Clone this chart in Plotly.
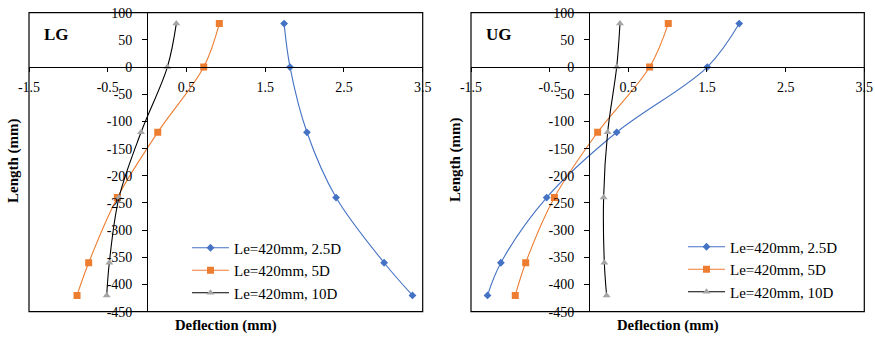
import plotly.graph_objects as go

# Pile depth below/above the ground line (mm)
depth = [80, 0, -120, -240, -360, -420]

# Lateral deflection (mm) for each embedment ratio, LG panel
lg_25d = [1.74, 1.815, 2.03, 2.40, 3.01, 3.37]
lg_5d = [0.917, 0.719, 0.135, -0.378, -0.742, -0.89]
lg_10d = [0.371, 0.257, -0.077, -0.357, -0.48, -0.513]

# Lateral deflection (mm) for each embedment ratio, UG panel
ug_25d = [1.91, 1.504, 0.352, -0.538, -1.12, -1.29]
ug_5d = [1.008, 0.771, 0.11, -0.44, -0.805, -0.937]
ug_10d = [0.394, 0.352, 0.237, 0.186, 0.195, 0.224]

series_names = ["Le=420mm, 2.5D", "Le=420mm, 5D", "Le=420mm, 10D"]
panel_labels = ["LG", "UG"]

x_tickvals = [-1.5, -0.5, 0.5, 1.5, 2.5, 3.5]
x_ticktext = ["-1.5", "-0.5", "0.5", "1.5", "2.5", "3.5"]
y_tickvals = [100, 50, 0, -50, -100, -150, -200, -250, -300, -350, -400, -450]
y_ticktext = ["100", "50", "0", "-50", "-100", "-150", "-200", "-250",
              "-300", "-350", "-400", "-450"]

X_RANGE = [-1.5, 3.5]
Y_RANGE = [-450, 100]

W, H = 875, 337
SERIF = "Liberation Serif"

BLUE = "#4472C4"
ORANGE = "#ED7D31"
GRAY = "#A5A5A5"

# plot-area domains (paper fractions)
x_domains = [[29 / W, 422.7 / W], [471 / W, 864.3 / W]]
y_domain = [1 - 311.7 / H, 1 - 12.7 / H]


def frac(v, rng):
    return (v - rng[0]) / (rng[1] - rng[0])


# axes cross at the origin: x axis sits at y=0, y axis at x=0
x_axis_pos = y_domain[0] + frac(0, Y_RANGE) * (y_domain[1] - y_domain[0])

fig = go.Figure()

panels = [
    (lg_25d, lg_5d, lg_10d),
    (ug_25d, ug_5d, ug_10d),
]
styles = [
    dict(line=dict(color=BLUE, width=1.1), marker=dict(symbol="diamond", size=6, color=BLUE)),
    dict(line=dict(color=ORANGE, width=1.1), marker=dict(symbol="square", size=7, color=ORANGE)),
    dict(line=dict(color="black", width=1.1), marker=dict(symbol="triangle-up", size=7, color=GRAY)),
]

for i, series in enumerate(panels):
    xa = "x" if i == 0 else "x2"
    ya = "y" if i == 0 else "y2"
    lg = "legend" if i == 0 else "legend2"
    for name, vals, st in zip(series_names, series, styles):
        fig.add_trace(go.Scatter(
            x=vals, y=depth, name=name, mode="lines+markers",
            line=dict(shape="spline", smoothing=1.0, **st["line"]),
            marker=st["marker"], xaxis=xa, yaxis=ya, legend=lg,
        ))

axis_font = dict(family=SERIF, size=14, color="black")


def xaxis_cfg(i):
    return dict(
        domain=x_domains[i], range=X_RANGE, anchor="free", position=x_axis_pos,
        showline=True, linecolor="black", linewidth=1,
        ticks="outside", ticklen=4, tickcolor="black", tickwidth=1,
        ticklabelstandoff=3,
        tickmode="array", tickvals=x_tickvals, ticktext=x_ticktext,
        tickfont=axis_font, showgrid=False, zeroline=False, fixedrange=True,
        automargin=False,
    )


def yaxis_cfg(i):
    xd = x_domains[i]
    pos = xd[0] + frac(0, X_RANGE) * (xd[1] - xd[0])
    return dict(
        domain=y_domain, range=Y_RANGE, anchor="free", position=pos,
        showline=True, linecolor="black", linewidth=1,
        ticks="outside", ticklen=5, tickcolor="black", tickwidth=1,
        ticklabelstandoff=7,
        tickmode="array", tickvals=y_tickvals, ticktext=y_ticktext,
        tickfont=axis_font, showgrid=False, zeroline=False, fixedrange=True,
        automargin=False,
    )


shapes = []
annotations = []
for i, suffix in enumerate(["", "2"]):
    shapes.append(dict(
        type="rect", xref=f"x{suffix} domain", yref=f"y{suffix} domain",
        x0=0, x1=1, y0=0, y1=1, line=dict(color="black", width=1.2),
        fillcolor="rgba(0,0,0,0)", layer="above",
    ))
    xd = x_domains[i]
    annotations.append(dict(
        text="<b>Deflection (mm)</b>", xref="paper", yref="paper",
        x=(xd[0] + xd[1]) / 2, y=1 - 325 / H, xanchor="center", yanchor="middle",
        showarrow=False, font=dict(family=SERIF, size=14.7, color="black"),
    ))
    annotations.append(dict(
        text="<b>Length (mm)</b>", xref="paper", yref="paper",
        x=xd[0] - 16 / W, y=1 - 160 / H, xanchor="center", yanchor="middle",
        textangle=-90, showarrow=False,
        font=dict(family=SERIF, size=15, color="black"),
    ))
    annotations.append(dict(
        text=f"<b>{panel_labels[i]}</b>", xref="paper", yref="paper",
        x=xd[0] + 13 / W, y=1 - 34 / H, xanchor="left", yanchor="middle",
        showarrow=False, font=dict(family=SERIF, size=17, color="black"),
    ))

legend_common = dict(
    font=dict(family=SERIF, size=15, color="black"),
    bgcolor="rgba(0,0,0,0)", borderwidth=0,
    xanchor="left", yanchor="top", tracegroupgap=0, itemwidth=37,
)

fig.update_layout(
    width=W, height=H,
    margin=dict(l=0, r=0, t=0, b=0, autoexpand=False),
    paper_bgcolor="white", plot_bgcolor="white",
    showlegend=True,
    xaxis=xaxis_cfg(0), yaxis=yaxis_cfg(0),
    xaxis2=xaxis_cfg(1), yaxis2=yaxis_cfg(1),
    legend=dict(x=187 / W, y=1 - 231.5 / H, **legend_common),
    legend2=dict(x=683 / W, y=1 - 230.5 / H, **legend_common),
    shapes=shapes, annotations=annotations,
)

fig.write_html("out.html")
